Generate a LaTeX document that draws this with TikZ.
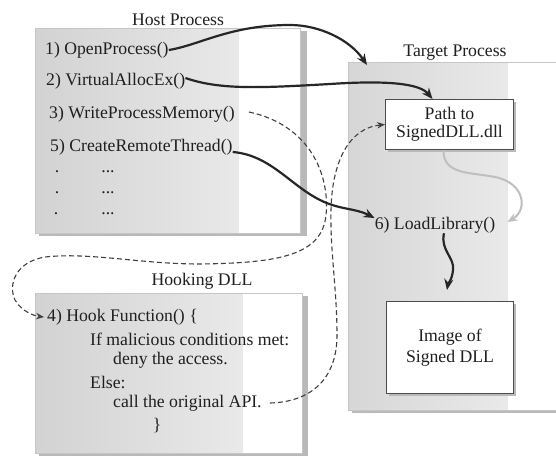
\documentclass[tikz,border=0pt]{standalone}
\usepackage{fontspec}
\setmainfont{Liberation Serif}
\usetikzlibrary{arrows.meta}
\begin{document}
\begin{tikzpicture}[x=1pt,y=-1pt,
  every node/.style={font=\fontsize{17.7}{21}\selectfont, text=black!88, inner sep=0pt},
  item/.style={anchor=west},
  panel/.style={draw=gray!45, line width=0.6pt, fill=white, inner sep=0pt, anchor=north west},
  whitebox/.style={draw=black!70, line width=1pt, fill=white, inner sep=0pt, anchor=north west, align=center},
  shadowfill/.style={fill=gray!55},
  flow/.style={line width=2.2pt, black!85, -{Stealth[length=11pt,width=9pt]}},
  dflow/.style={line width=1.1pt, black!75, dash pattern=on 5pt off 3pt, -{Stealth[length=8pt,width=6.5pt]}},
  gflow/.style={line width=2pt, gray!50, -{Stealth[length=10pt,width=8pt]}},
]
\useasboundingbox (0,0) rectangle (556,456);
\fill[white] (0,0) rectangle (556,456);

% ---------- panels ----------
\fill[shadowfill] (39,31) rectangle (307,236);
\node[panel, minimum width=265pt, minimum height=205pt,
  path picture={\shade[left color=gray!35, right color=gray!12]
    (path picture bounding box.north west) rectangle ([xshift=-62pt]path picture bounding box.south east);}]
  (host) at (35,28) {};

\fill[shadowfill] (352,65) rectangle (560,413);
\node[panel, minimum width=212pt, minimum height=348pt,
  path picture={\shade[left color=gray!32, right color=gray!12]
    (path picture bounding box.north west) rectangle ([xshift=-53pt]path picture bounding box.south east);}]
  (target) at (348,62) {};

\fill[shadowfill] (39,296) rectangle (308,456);
\node[panel, minimum width=267pt, minimum height=160pt,
  path picture={\shade[left color=gray!35, right color=gray!12]
    (path picture bounding box.north west) rectangle ([xshift=-60pt]path picture bounding box.south east);}]
  (hook) at (35,293) {};

% ---------- titles ----------
\node (hostT) at (178,20) {Host Process};
\node (tgtT) at (455,53) {Target Process};
\node (hookT) at (202,281) {Hooking DLL};

% ---------- host items ----------
\node[item] (op)  at (45,50)  {1) OpenProcess()};
\node[item] (va)  at (46,81)  {2) VirtualAllocEx()};
\node[item] (wpm) at (49,114) {3) WriteProcessMemory()};
\node[item] (crt) at (50,147) {5) CreateRemoteThread()};
\node (d1) at (57,172) {.};
\node (e1) at (108,172) {...};
\node (d2) at (57,193) {.};
\node (e2) at (108,193) {...};
\node (d3) at (56,214) {.};
\node (e3) at (108,214) {...};

% ---------- target items ----------
\fill[shadowfill] (388,102) rectangle (516,152);
\node[whitebox, minimum width=128pt, minimum height=50pt,
  font=\fontsize{17.7}{18}\selectfont] (pathbox) at (385,99) {Path to\\SignedDLL.dll};
\node (ll) at (435,225) {6) LoadLibrary()};
\fill[shadowfill] (389,304) rectangle (516,396);
\node[whitebox, minimum width=127pt, minimum height=92pt,
  font=\fontsize{17.7}{21}\selectfont] (imgbox) at (386,301) {Image of\\Signed DLL};

% ---------- hook text ----------
\node[item] (h4) at (47,317) {4) Hook Function() \{};
\node[item] (h5) at (90,339) {If malicious conditions met:};
\node[item] (h6) at (113,360) {deny the access.};
\node[item] (h7) at (90,382) {Else:};
\node[item] (h8) at (113,403) {call the original API.};
\node (h9) at (157,426) {\}};

% ---------- connectors ----------
\coordinate (tgtin) at (367,65);
\draw[flow] (op.east) .. controls (200,45) and (230,25) .. (290,25)
  .. controls (320,25) and (350,40) .. (tgtin);
\draw[flow] ([yshift=3pt]va.east) .. controls (220,90) and (260,88) .. (330,84)
  .. controls (390,80) and (420,84) .. ([xshift=-17pt]pathbox.north);
\draw[dflow] ([xshift=14pt,yshift=2pt]wpm.east) .. controls (310,125) and (330,175) .. (326,215)
  .. controls (322,255) and (280,263) .. (200,264)
  .. controls (140,264) and (90,252) .. (45,257)
  .. controls (15,262) and (8,285) .. (15,300)
  .. controls (22,312) and (35,316) .. ([xshift=-3pt]h4.west);
\draw[dflow] ([xshift=8pt]h8.east) .. controls (310,402) and (337,380) .. (337,335)
  .. controls (337,290) and (330,250) .. (331,210)
  .. controls (332,160) and (350,128) .. (pathbox.west);
\draw[flow] ([yshift=-5pt]crt.east) .. controls (270,155) and (290,185) .. (320,200)
  .. controls (340,210) and (355,208) .. ([yshift=7pt]ll.west);
\draw[gflow] ([xshift=-6pt]pathbox.south) .. controls (443,175) and (470,172) .. (495,177)
  .. controls (525,183) and (528,210) .. ([xshift=12pt,yshift=3pt]ll.east);
\draw[flow] ([xshift=9pt]ll.south) .. controls (440,250) and (455,258) .. (453,270)
  .. controls (452,280) and (448,284) .. ([xshift=-3pt,yshift=11pt]imgbox.north);
\end{tikzpicture}
\end{document}
